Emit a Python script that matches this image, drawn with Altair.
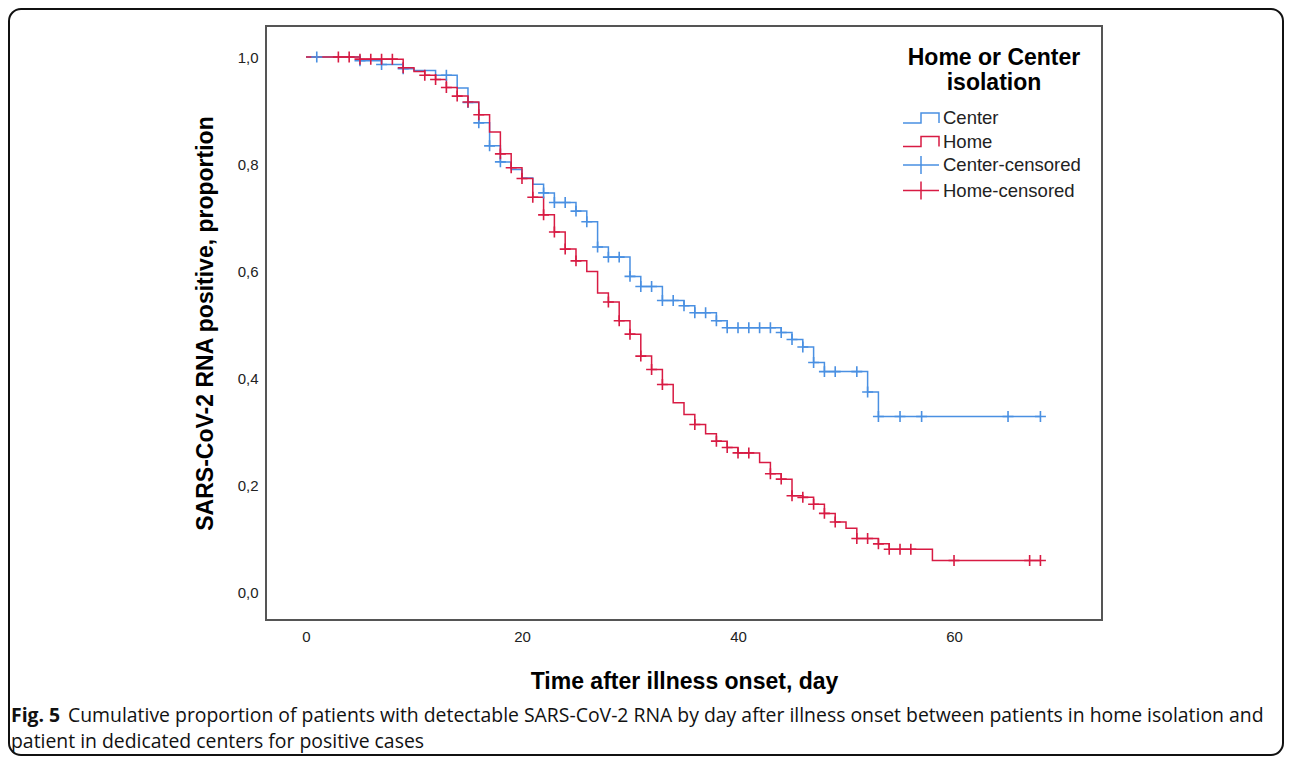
import altair as alt
import pandas as pd

# ---------------- data ----------------
center_days = [0, 5, 7, 9, 10, 12, 14, 15, 16, 17, 18, 19, 20, 21, 22, 23, 25, 26, 27, 28,
               30, 31, 33, 35, 36, 38, 39, 44, 45, 46, 47, 48, 52, 53, 68]
center_surv = [1.000, 0.993, 0.986, 0.978, 0.975, 0.966, 0.942, 0.915, 0.877, 0.834, 0.804,
               0.790, 0.774, 0.762, 0.746, 0.728, 0.712, 0.692, 0.645, 0.626,
               0.590, 0.571, 0.545, 0.535, 0.522, 0.507, 0.494, 0.485, 0.472, 0.458,
               0.429, 0.412, 0.374, 0.328, 0.328]
center_censor = [1, 5, 7, 9, 13, 15, 16, 17, 18, 22, 23, 24, 25, 26, 27, 28, 29, 30, 31, 32,
                 33, 34, 35, 36, 37, 38, 39, 40, 41, 42, 43, 44, 45, 46, 47, 48, 49, 51, 52,
                 53, 55, 57, 65, 68]

home_days = [0, 5, 9, 10, 11, 12, 13, 14, 15, 16, 17, 18, 19, 20, 21, 22, 23, 24, 25, 26,
             27, 28, 29, 30, 31, 32, 33, 34, 35, 36, 37, 38, 39, 40, 42, 43, 44, 45, 46,
             47, 48, 49, 50, 51, 53, 54, 58, 68]
home_surv = [1.000, 0.996, 0.980, 0.973, 0.966, 0.958, 0.943, 0.927, 0.916, 0.892, 0.860,
             0.819, 0.793, 0.773, 0.738, 0.705, 0.673, 0.641, 0.619, 0.599,
             0.559, 0.542, 0.507, 0.482, 0.441, 0.416, 0.388, 0.354, 0.332, 0.313,
             0.296, 0.282, 0.270, 0.260, 0.242, 0.221, 0.211, 0.180, 0.177,
             0.164, 0.147, 0.131, 0.119, 0.100, 0.090, 0.080, 0.059, 0.059]
home_censor = [3, 4, 5, 6, 7, 8, 9, 11, 12, 13, 14, 15, 16, 18, 19, 20, 21, 22, 23, 24, 25,
               28, 29, 30, 31, 32, 33, 36, 38, 39, 40, 41, 43, 44, 45, 46, 47, 48, 49, 51,
               52, 53, 54, 55, 56, 60, 67, 68]

series_names = ["Center", "Home", "Center-censored", "Home-censored"]
series_colors = ["#4A90E2", "#D81B43", "#4A90E2", "#D81B43"]
x_ticks = [0, 20, 40, 60]
y_ticks = [0.0, 0.2, 0.4, 0.6, 0.8, 1.0]

caption_bold = "Fig. 5"
caption_line1 = ("Cumulative proportion of patients with detectable SARS-CoV-2 RNA by day after "
                 "illness onset between patients in home isolation and")
caption_line2 = "patient in dedicated centers for positive cases"


def level(days, surv, t):
    s = surv[0]
    for d, v in zip(days, surv):
        if d <= t:
            s = v
    return s


center_df = pd.DataFrame({"day": center_days, "surv": center_surv})
home_df = pd.DataFrame({"day": home_days, "surv": home_surv})
center_cens_df = pd.DataFrame({"day": center_censor,
                               "surv": [level(center_days, center_surv, d) for d in center_censor]})
home_cens_df = pd.DataFrame({"day": home_censor,
                             "surv": [level(home_days, home_surv, d) for d in home_censor]})
legend_df = pd.DataFrame({"series": series_names, "day": [-50] * 4, "surv": [0.5] * 4})

# ---------------- encodings ----------------
FONT = "Liberation Sans"
step_path = "M-1.5,0.42H0V-0.42H1.5V0.42"
plus_path = "M-1.5,0H1.5M0,-0.75V0.75"
cross_path = "M-1,0H1M0,-1V1"

x_enc = alt.X("day:Q",
              scale=alt.Scale(domain=[-3.7, 73.7], nice=False, zero=False),
              axis=alt.Axis(values=x_ticks, title="Time after illness onset, day",
                            grid=False, ticks=False, domain=False, labelPadding=9,
                            labelFontSize=15, labelColor="#222", labelFont=FONT,
                            titleFont=FONT, titleFontSize=23, titleFontWeight="bold",
                            titleColor="#000", titlePadding=26))
y_enc = alt.Y("surv:Q",
              scale=alt.Scale(domain=[-0.0523, 1.058], nice=False, zero=False),
              axis=alt.Axis(values=y_ticks, title="SARS-CoV-2 RNA positive, proportion",
                            labelExpr="replace(format(datum.value, '.1f'), '.', ',')",
                            grid=False, ticks=False, domain=False, labelPadding=8,
                            labelFontSize=15, labelColor="#222", labelFont=FONT,
                            titleFont=FONT, titleFontSize=23, titleFontWeight="bold",
                            titleColor="#000", titlePadding=20))


def km_line(df, color):
    return alt.Chart(df).mark_line(interpolate="step-after", strokeWidth=1.5,
                                   color=color).encode(x=x_enc, y=y_enc)


def km_cens(df, color):
    return alt.Chart(df).mark_point(shape=cross_path, size=120, filled=False,
                                    strokeWidth=1.6, opacity=1, color=color).encode(
        x="day:Q", y="surv:Q")


legend_layer = alt.Chart(legend_df).mark_point(clip=True, filled=False, strokeWidth=1.5,
                                                opacity=1).encode(
    x="day:Q", y="surv:Q",
    color=alt.Color("series:N", scale=alt.Scale(domain=series_names, range=series_colors),
                    legend=alt.Legend(title=["Home or Center", "isolation"],
                                      orient="none", legendX=642, legendY=21,
                                      padding=0, rowPadding=0.5,
                                      titleFont=FONT, titleFontSize=23,
                                      titleFontWeight="bold", titleColor="#000",
                                      titleAlign="center", titleAnchor="middle",
                                      titleLineHeight=25, titlePadding=10,
                                      labelFont=FONT, labelFontSize=18.5,
                                      labelColor="#222", labelOffset=9,
                                      symbolSize=576, symbolStrokeWidth=1.5,
                                      symbolFillColor="transparent",
                                      labelLimit=300)),
    shape=alt.Shape("series:N",
                    scale=alt.Scale(domain=series_names,
                                    range=[step_path, step_path, plus_path, plus_path])),
)

one = pd.DataFrame({"k": [0]})
frame = alt.Chart(one).mark_rect(cornerRadius=12, fillOpacity=0, stroke="#111",
                                 strokeWidth=2).encode(
    x=alt.value(-257), x2=alt.value(1017), y=alt.value(-17), y2=alt.value(729))

cap_bold = alt.Chart(one).mark_text(text=caption_bold, align="left", baseline="middle",
                                    font="Open Sans", fontSize=19.4, fontWeight="bold",
                                    color="#111").encode(x=alt.value(-255), y=alt.value(690))
cap_1 = alt.Chart(one).mark_text(text=caption_line1, align="left", baseline="middle",
                                 font="Open Sans", fontSize=19.4,
                                 color="#111").encode(x=alt.value(-198), y=alt.value(690))
cap_2 = alt.Chart(one).mark_text(text=caption_line2, align="left", baseline="middle",
                                 font="Open Sans", fontSize=19.4,
                                 color="#111").encode(x=alt.value(-255), y=alt.value(716))

chart = alt.layer(
    km_line(center_df, series_colors[0]), km_line(home_df, series_colors[1]),
    km_cens(center_cens_df, series_colors[2]), km_cens(home_cens_df, series_colors[3]),
    legend_layer, frame, cap_bold, cap_1, cap_2,
).properties(
    width=836, height=594,
    autosize=alt.AutoSizeParams(type="none"),
    padding={"left": 258, "top": 18, "right": 182, "bottom": 136},
    background="white",
).configure_view(stroke="#555", strokeWidth=2)

chart.save("out.html", embed_options={"renderer": "svg", "actions": False})
